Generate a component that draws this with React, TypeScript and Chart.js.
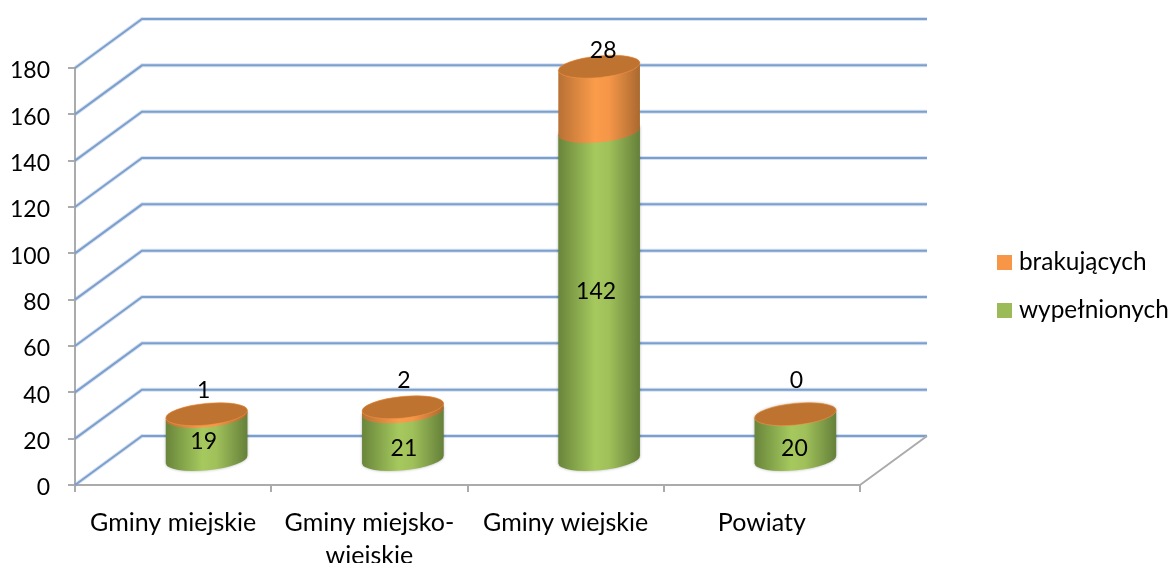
import React, { useEffect, useRef } from "react";
import { Chart, registerables } from "chart.js";

Chart.register(...registerables);

const categories = ["Gminy miejskie", ["Gminy miejsko-", "wiejskie"], "Gminy wiejskie", "Powiaty"];
const filled = [19, 21, 142, 20];
const missing = [1, 2, 28, 0];
const yMax = 180;
const yStep = 20;

const FONT = "Lato, Carlito, sans-serif";
const TEXT_SIZE = 25;
const NUM_SIZE = 23;
const LEGEND_SIZE = 24.4;
const DEPTH_X = 67;
const DEPTH_Y = 49;
const BAR_SHIFT_X = 33.5;
const BAR_SHIFT_Y = 24.5;
const RY = 10.8;
const TILT = -0.098;
const GRID = "#7C9FCE";
const AXIS = "#ABABAB";
const fillNudge: [number, number][] = [[-3, 4], [1, 13], [-3, -4], [-1, 12]];
const missNudge: [number, number][] = [[-3, -24], [1, -27], [4, -16], [1, -34]];

const walls = (chart: any) => {
  const { ctx, scales, chartArea } = chart;
  const y = scales.y;
  const { left, right, bottom } = chartArea;
  ctx.save();
  for (const t of y.ticks) {
    const py = y.getPixelForValue(t.value);
    const path = () => {
      ctx.beginPath();
      ctx.moveTo(left, py);
      ctx.lineTo(left + DEPTH_X, py - DEPTH_Y);
      ctx.lineTo(right + DEPTH_X, py - DEPTH_Y);
    };
    ctx.strokeStyle = "rgba(124,159,206,0.3)";
    ctx.lineWidth = 4;
    path();
    ctx.stroke();
    ctx.strokeStyle = GRID;
    ctx.lineWidth = 2;
    path();
    ctx.stroke();
  }
  ctx.strokeStyle = AXIS;
  ctx.lineWidth = 2;
  ctx.beginPath();
  ctx.moveTo(right, bottom);
  ctx.lineTo(right + DEPTH_X, bottom - DEPTH_Y);
  ctx.stroke();
  ctx.restore();
};

const bodyGradient = (ctx: any, x0: number, x1: number, stops: string[]) => {
  const g = ctx.createLinearGradient(x0, 0, x1, 0);
  g.addColorStop(0, stops[0]);
  g.addColorStop(0.45, stops[1]);
  g.addColorStop(0.62, stops[2]);
  g.addColorStop(1, stops[3]);
  return g;
};

const GREEN = ["#68853A", "#A6C95E", "#A0C05A", "#64803A"];
const ORANGE = ["#B87034", "#FB9C4B", "#F59648", "#A9692F"];

const cylinders = (chart: any) => {
  const { ctx } = chart;
  const green = chart.getDatasetMeta(0).data;
  const orange = chart.getDatasetMeta(1).data;
  ctx.save();
  green.forEach((g: any, i: number) => {
    const o = orange[i];
    const cx = g.x + BAR_SHIFT_X;
    const rx = g.width / 2;
    const base = g.base - BAR_SHIFT_Y;
    const mid = g.y - BAR_SHIFT_Y;
    const top = o.y - BAR_SHIFT_Y;
    const seg = (from: number, to: number, stops: string[], shadow: boolean) => {
      ctx.save();
      if (shadow) {
        ctx.shadowColor = "rgba(0,0,0,0.3)";
        ctx.shadowBlur = 3;
      }
      ctx.beginPath();
      ctx.ellipse(cx, to, rx, RY, TILT, Math.PI, 2 * Math.PI);
      ctx.ellipse(cx, from, rx, RY, TILT, 0, Math.PI);
      ctx.closePath();
      ctx.fillStyle = bodyGradient(ctx, cx - rx, cx + rx, stops);
      ctx.fill();
      ctx.restore();
    };
    seg(base, mid, GREEN, true);
    if (missing[i] > 0) seg(mid, top, ORANGE, false);
    ctx.beginPath();
    ctx.ellipse(cx, top, rx, RY, TILT, 0, 2 * Math.PI);
    ctx.fillStyle = "#BE7331";
    ctx.fill();
    ctx.strokeStyle = "rgba(247,150,70,0.55)";
    ctx.lineWidth = 1;
    ctx.stroke();
  });
  ctx.fillStyle = "#000";
  ctx.font = `${NUM_SIZE}px ${FONT}`;
  ctx.textAlign = "center";
  ctx.textBaseline = "middle";
  green.forEach((g: any, i: number) => {
    const o = orange[i];
    const cx = g.x + BAR_SHIFT_X;
    const segMid = (g.y + g.base) / 2 - BAR_SHIFT_Y;
    ctx.fillText(String(filled[i]), cx + fillNudge[i][0], segMid + fillNudge[i][1]);
    ctx.fillText(String(missing[i]), cx + missNudge[i][0], o.y - BAR_SHIFT_Y + missNudge[i][1]);
  });
  ctx.restore();
};

const LEGEND_PAD = 23.6;
const threeD = {
  id: "threeD",
  afterLayout(chart: any) {
    const l = chart.legend;
    l.left = 997 + 5.25 - LEGEND_PAD;
    l.right = 1170;
    l.top = 250.3 - LEGEND_PAD;
    l.bottom = 563;
  },
  beforeDatasetsDraw(chart: any) {
    walls(chart);
    cylinders(chart);
    return false;
  },
};

export default function App() {
  const ref = useRef<HTMLCanvasElement>(null);
  useEffect(() => {
    const chart = new Chart(ref.current as HTMLCanvasElement, {
      type: "bar",
      data: {
        labels: categories as any,
        datasets: [
          { label: "wypełnionych", data: filled, backgroundColor: "#9BBB59", categoryPercentage: 1, barPercentage: 0.418 },
          { label: "brakujących", data: missing, backgroundColor: "#F79646", categoryPercentage: 1, barPercentage: 0.418 },
        ],
      },
      options: {
        responsive: false,
        animation: false,
        layout: { padding: { top: 68, right: 310, bottom: 0, left: 0 } },
        plugins: {
          tooltip: { enabled: false },
          legend: {
            position: "chartArea",
            align: "start",
            reverse: true,
            labels: {
              boxWidth: 4.5,
              boxHeight: 4.5,
              padding: LEGEND_PAD,
              color: "#000",
              font: { family: FONT, size: LEGEND_SIZE },
              generateLabels: (chart: any) =>
                Chart.defaults.plugins.legend.labels.generateLabels(chart).map((it: any) => ({
                  ...it,
                  strokeStyle: it.fillStyle,
                  lineWidth: 10.5,
                })),
            },
          },
        },
        scales: {
          x: {
            stacked: true,
            afterFit: (s: any) => { s.height = 78; },
            border: { color: AXIS, width: 2 },
            grid: { drawOnChartArea: false, drawTicks: true, tickLength: 7, tickColor: AXIS, lineWidth: 2 },
            ticks: { color: "#000", padding: 15, maxRotation: 0, autoSkip: false, font: { family: FONT, size: TEXT_SIZE, lineHeight: 1.3 } },
          },
          y: {
            stacked: true,
            min: 0,
            max: yMax,
            afterFit: (s: any) => { s.width = 75; },
            border: { color: AXIS, width: 2 },
            grid: { drawOnChartArea: false, drawTicks: true, tickLength: 7, tickColor: AXIS, lineWidth: 2 },
            ticks: { stepSize: yStep, color: "#000", padding: 18, labelOffset: 3, font: { family: FONT, size: NUM_SIZE } },
          },
        },
      },
      plugins: [threeD],
    } as any);
    return () => chart.destroy();
  }, []);
  return (
    <div style={{ position: "absolute", left: 0, top: 0, width: 1170, height: 563, background: "#fff", overflow: "hidden" }}>
      <canvas ref={ref} width={1170} height={563} style={{ display: "block" }} />
    </div>
  );
}
